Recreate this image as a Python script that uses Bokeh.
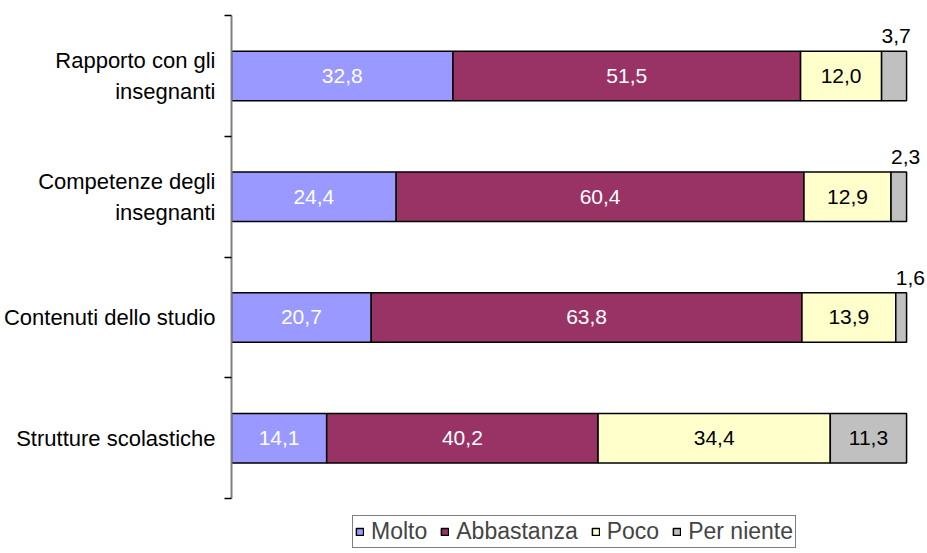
from bokeh.plotting import figure
from bokeh.models import Range1d, FixedTicker, ColumnDataSource, Legend, LegendItem
from bokeh.embed import file_html
from bokeh.resources import INLINE
from bokeh.core.properties import value

categories = ["Rapporto con gli\ninsegnanti", "Competenze degli\ninsegnanti",
              "Contenuti dello studio", "Strutture scolastiche"]
series = ["Molto", "Abbastanza", "Poco", "Per niente"]
molto = [32.8, 24.4, 20.7, 14.1]
abbastanza = [51.5, 60.4, 63.8, 40.2]
poco = [12.0, 12.9, 13.9, 34.4]
per_niente = [3.7, 2.3, 1.6, 11.3]

colors = ["#9999FF", "#993366", "#FFFFCC", "#C0C0C0"]
label_colors = ["white", "white", "black", "black"]
FONT = "Liberation Sans"
BAR_H = 0.41

n = len(categories)
ypos = [n - i - 0.5 for i in range(n)]

p = figure(width=927, height=553, output_backend="svg", toolbar_location=None,
           x_range=Range1d(0, 103.1), y_range=Range1d(-0.455, n),
           x_axis_location=None, min_border_left=231, min_border_right=0,
           min_border_top=15, min_border_bottom=0)
p.outline_line_color = None
p.xgrid.visible = False
p.ygrid.visible = False
p.background_fill_color = "white"
p.border_fill_color = "white"

ax = p.yaxis[0]
ax.bounds = (0, n)
ax.ticker = FixedTicker(ticks=ypos, minor_ticks=[float(k) for k in range(n + 1)])
ax.major_label_overrides = {y: c for y, c in zip(ypos, categories)}
ax.major_tick_out = 0
ax.major_tick_in = 0
ax.minor_tick_out = 7
ax.minor_tick_in = 0
ax.minor_tick_line_color = "black"
ax.minor_tick_line_width = 1.5
ax.axis_line_color = "#808080"
ax.axis_line_width = 2
ax.major_label_text_font = FONT
ax.major_label_text_font_size = "22px"
ax.major_label_text_color = "black"
ax.major_label_text_line_height = 1.25
ax.major_label_standoff = 9

all_vals = [molto, abbastanza, poco, per_niente]
left = [0.0] * n
items = []
for s, vals, col, lcol in zip(series, all_vals, colors, label_colors):
    right = [l + v for l, v in zip(left, vals)]
    src = ColumnDataSource(dict(y=ypos, left=left, right=right))
    r = p.hbar(y="y", left="left", right="right", height=BAR_H, source=src,
               fill_color=col, line_color="black", line_width=1.5)
    items.append(LegendItem(label=s, renderers=[r]))
    in_x, in_y, in_t, out_x, out_y, out_t = [], [], [], [], [], []
    for l, v, y in zip(left, vals, ypos):
        t = f"{v:.1f}".replace(".", ",")
        if v >= 5:
            in_x.append(l + v / 2); in_y.append(y); in_t.append(t)
        else:
            out_x.append(l); out_y.append(y + BAR_H / 2); out_t.append(t)
    if in_t:
        p.text(x=in_x, y=in_y, text=in_t, text_align="center", text_baseline="middle",
               text_font=value(FONT), text_font_size="21px", text_color=lcol)
    if out_t:
        p.text(x=out_x, y=out_y, text=out_t, text_align="left", text_baseline="middle",
               y_offset=-15, text_font=value(FONT), text_font_size="21px",
               text_color="black")
    left = right

legend = Legend(items=items, orientation="horizontal", location=(121, 5),
                label_text_font=FONT, label_text_font_size="23px",
                glyph_width=9, glyph_height=9, label_standoff=7, spacing=13,
                padding=2, margin=0, border_line_color="black", border_line_width=1,
                label_height=20, background_fill_alpha=1.0)
p.add_layout(legend, "center")

open("out.html", "w").write(file_html(p, INLINE))
